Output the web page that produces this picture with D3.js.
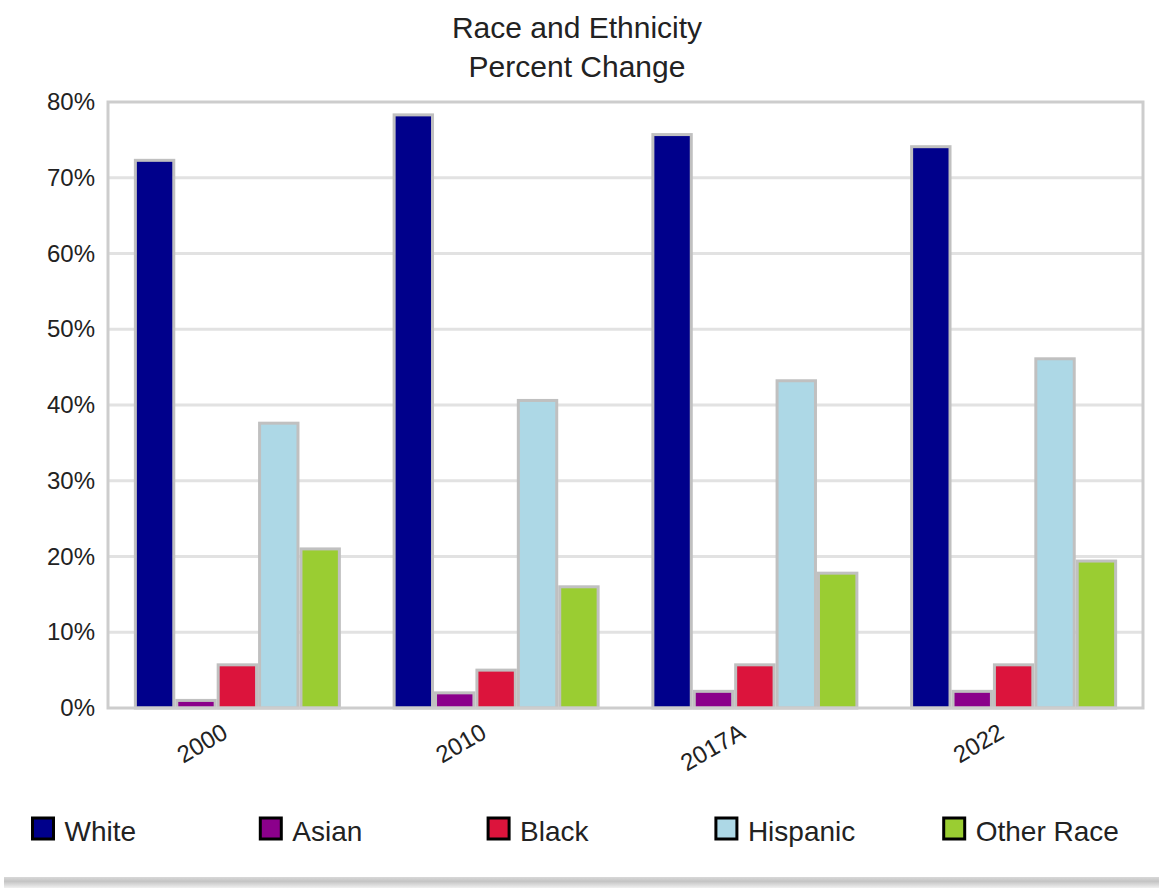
<!DOCTYPE html>
<html><head><meta charset="utf-8">
<script src="https://cdn.jsdelivr.net/npm/d3@7"></script>
<style>html,body{margin:0;padding:0;background:#fff;}svg{display:block;font-family:"Liberation Sans",Arial,sans-serif;}</style>
</head><body>
<svg id="c" width="1159" height="888"></svg>
<script>
const categories = ["2000", "2010", "2017A", "2022"];
const seriesNames = ["White", "Asian", "Black", "Hispanic", "Other Race"];
const seriesColors = ["#00008b", "#8b008b", "#dc143c", "#add8e6", "#9acd32"];
const white = [72.3, 78.3, 75.7, 74.1];
const asian = [1.0, 2.0, 2.2, 2.2];
const black = [5.7, 5.0, 5.7, 5.7];
const hispanic = [37.6, 40.6, 43.2, 46.1];
const otherRace = [21.0, 16.0, 17.8, 19.4];
const yTicks = [0, 10, 20, 30, 40, 50, 60, 70, 80];
const titleLines = ["Race and Ethnicity", "Percent Change"];

const seriesValues = [white, asian, black, hispanic, otherRace];
const svg = d3.select("#c");

// bottom shadow
const defs = svg.append("defs");
const g1 = defs.append("linearGradient").attr("id","sh").attr("x1",0).attr("y1",0).attr("x2",0).attr("y2",1);
g1.append("stop").attr("offset","0").attr("stop-color","#d8d8d8");
g1.append("stop").attr("offset","0.4").attr("stop-color","#c4c4c4");
g1.append("stop").attr("offset","1").attr("stop-color","#f0f0f0");
svg.append("rect").attr("x",4).attr("y",877).attr("width",1155).attr("height",11).attr("fill","url(#sh)");

const L = 108, R = 1143, T = 102, B = 708;
const x = d3.scaleBand().domain(categories).range([L, R]).paddingInner(0.2).paddingOuter(0.1);
const xs = d3.scaleBand().domain(seriesNames).range([0, x.bandwidth()]).padding(0);
const y = d3.scaleLinear().domain([0, 80]).range([B, T]);

// grid
svg.append("g").selectAll("line").data(yTicks.filter(d => d > 0 && d < 80)).join("line")
  .attr("x1", L).attr("x2", R).attr("y1", d => y(d)).attr("y2", d => y(d))
  .attr("stroke", "#e2e2e2").attr("stroke-width", 3);

// bars
const groups = svg.append("g").selectAll("g").data(categories).join("g")
  .attr("transform", d => `translate(${x(d)},0)`);
groups.selectAll("rect").data((c, ci) => seriesNames.map((s, si) => ({s, si, v: seriesValues[si][ci]}))).join("rect")
  .attr("x", d => xs(d.s) + 1.5)
  .attr("width", xs.bandwidth() - 3)
  .attr("y", d => y(d.v))
  .attr("height", d => B - y(d.v))
  .attr("fill", d => seriesColors[d.si])
  .attr("stroke", "#c0c0c0").attr("stroke-width", 3);

// border
svg.append("rect").attr("x", L).attr("y", T).attr("width", R - L).attr("height", B - T)
  .attr("fill", "none").attr("stroke", "#cdcdcd").attr("stroke-width", 3);

// y axis labels
const yAxis = d3.axisLeft(y).tickValues(yTicks).tickFormat(d => d + "%").tickSize(0).tickPadding(13);
const ya = svg.append("g").attr("transform", `translate(${L},0)`).call(yAxis);
ya.select(".domain").remove();
ya.selectAll("text").attr("font-size", 24).attr("fill", "#222").attr("font-family", "Liberation Sans, Arial, sans-serif");

// x axis labels
const xAxis = d3.axisBottom(x).tickSize(0).tickPadding(0);
const xa = svg.append("g").attr("transform", `translate(0,${B})`).call(xAxis);
xa.select(".domain").remove();
xa.selectAll("text").attr("font-size", 24).attr("fill", "#222").attr("font-family", "Liberation Sans, Arial, sans-serif")
  .attr("text-anchor", "end").attr("dy", null).attr("y", 0)
  .attr("transform", "translate(-8,29) rotate(-30)");

// title
svg.append("g").selectAll("text").data(titleLines).join("text")
  .attr("x", 577).attr("y", (d, i) => 38 + i * 39)
  .attr("text-anchor", "middle").attr("font-size", 30).attr("fill", "#222").text(d => d);

// legend
const lg = svg.append("g").selectAll("g").data(seriesNames).join("g")
  .attr("transform", (d, i) => `translate(${32.5 + i * 227.8},818)`);
lg.append("rect").attr("width", 21).attr("height", 21)
  .attr("fill", (d, i) => seriesColors[i]).attr("stroke", "#000").attr("stroke-width", 3);
lg.append("text").attr("x", 32).attr("y", 23).attr("font-size", 28).attr("fill", "#222").text(d => d);
</script>
</body></html>
